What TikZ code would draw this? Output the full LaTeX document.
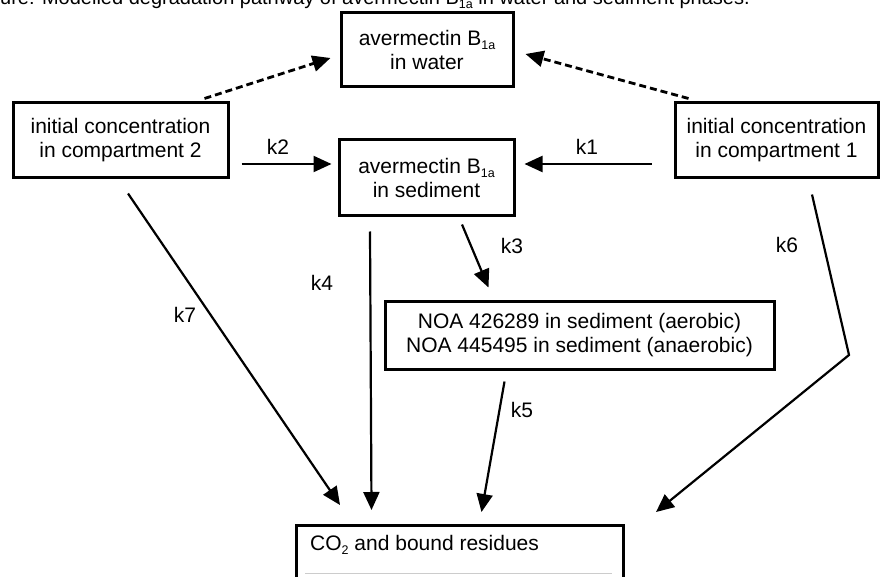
\documentclass[tikz,border=0pt]{standalone}
\usepackage{fontspec}
\setmainfont{Liberation Sans}
\usetikzlibrary{arrows.meta,calc}
\newcommand{\mysub}[1]{\raisebox{-0.35ex}{\fontsize{12.5}{12.5}\selectfont #1}}
\newcommand{\fs}{\fontsize{21}{24}\selectfont}
\begin{document}
\begin{tikzpicture}[x=1pt,y=-1pt,
  box/.style={draw, line width=3pt, align=center, inner sep=0pt, font=\fs},
  lbl/.style={font=\fs, inner sep=0pt},
  arr/.style={line width=2.2pt, -{Triangle[length=18pt,width=16pt]}},
  darr/.style={line width=2.8pt, dash pattern=on 7pt off 4pt, -{Triangle[length=18pt,width=16pt]}}]
\useasboundingbox (0,0) rectangle (880,577);
\fill[white] (0,0) rectangle (880,577);
\clip (0,0) rectangle (880,577);

\node[lbl, font=\fontsize{20}{24}\selectfont, anchor=base west] (title) at (0,5) {ure: Modelled degradation pathway of avermectin B\mysub{1a} in water and sediment phases.};

\node[box, minimum width=172pt, minimum height=74pt] (w) at (427,50) {avermectin B\mysub{1a}\\in water};
\node[box, minimum width=175pt, minimum height=76pt] (s) at (426.5,178) {avermectin B\mysub{1a}\\in sediment};
\node[box, minimum width=215pt, minimum height=75pt] (c2) at (120.5,140.5) {initial concentration\\in compartment 2};
\node[box, minimum width=203pt, minimum height=75pt] (c1) at (776.5,140.5) {initial concentration\\in compartment 1};
\node[box, minimum width=389pt, minimum height=68pt] (noa) at (579.5,335) {NOA 426289 in sediment (aerobic)\\NOA 445495 in sediment (anaerobic)};
\node[box, minimum width=327pt, minimum height=100pt, anchor=north west] (co2) at (295,524) {};
\draw[gray!40, line width=0.8pt] (305,573) -- (612,573);
\node[lbl, anchor=west] (co2t) at (310,545) {CO\mysub{2} and bound residues};

\draw[darr] ([xshift=-25pt,yshift=3pt]c2.north east) -- ([xshift=-9pt,yshift=-8pt]w.west);
\draw[darr] ([xshift=15pt,yshift=3pt]c1.north west) -- ([xshift=11pt,yshift=-4pt]w.east);
\draw[arr] ([xshift=12pt,yshift=-23.5pt]c2.east) -- ([xshift=-6pt,yshift=14pt]s.west);
\draw[arr] ([xshift=-22pt,yshift=-23.5pt]c1.west) -- ([xshift=9pt,yshift=14pt]s.east);
\draw[arr] ([xshift=-56.5pt,yshift=-14pt]s.south) -- ([xshift=-88.5pt,yshift=14pt]co2.north);
\draw[arr] ([xshift=7.5pt,yshift=-14pt]c2.south) -- ([xshift=45pt,yshift=19pt]co2.north west);
\draw[arr] ([xshift=35.5pt,yshift=-7pt]s.south) -- ([xshift=105pt,yshift=12pt]noa.north west);
\draw[arr] ([xshift=-75pt,yshift=-11pt]noa.south) -- ([xshift=21.5pt,yshift=12pt]co2.north);
\coordinate (bend) at (849,355);
\draw[arr] ([xshift=35.5pt,yshift=-15pt]c1.south) -- (bend) -- ([xshift=31pt,yshift=12pt]co2.north east);

\node[lbl] (k2) at (278,147) {k2};
\node[lbl] (k1) at (587,147) {k1};
\node[lbl] (k4) at (322,283) {k4};
\node[lbl] (k7) at (185,315) {k7};
\node[lbl] (k3) at (512,246) {k3};
\node[lbl] (k5) at (522,410) {k5};
\node[lbl] (k6) at (787,245) {k6};
\end{tikzpicture}
\end{document}
